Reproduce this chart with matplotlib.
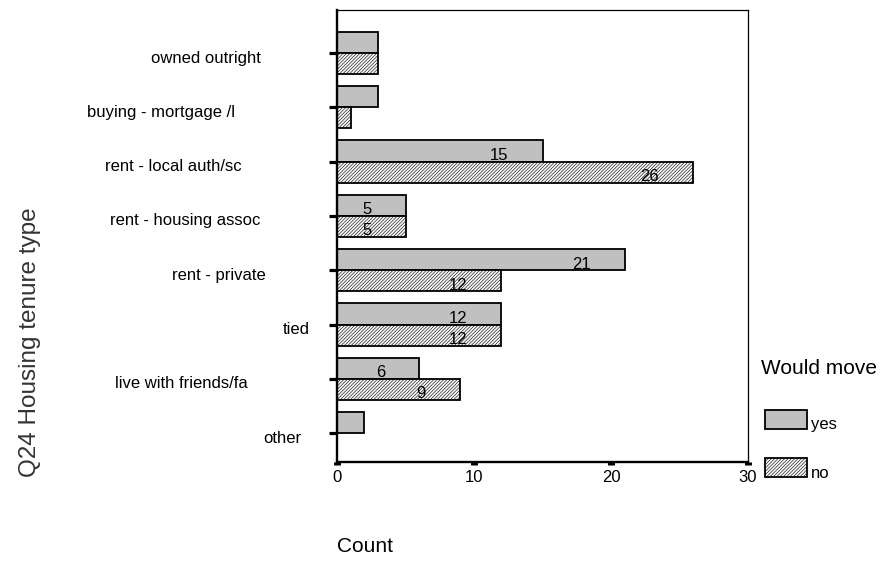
import numpy as np
import matplotlib
matplotlib.use("Agg")
from matplotlib import pyplot as plt
from matplotlib.patches import Rectangle

plt.rcParams['font.family'] = ['Liberation Sans', 'DejaVu Sans']
plt.rcParams['hatch.color'] = '#a0a0a0'
plt.rcParams['hatch.linewidth'] = 0.4

# data
categories = ['owned outright', 'buying - mortgage /l', 'rent - local auth/sc',
              'rent - housing assoc', 'rent - private', 'tied',
              'live with friends/fa', 'other']
yes_counts = [3, 3, 15, 5, 21, 12, 6, 2]
no_counts = [3, 1, 26, 5, 12, 12, 9, 0]
series_names = ['yes', 'no']

# pixel centres of the category labels (they are not aligned in the original)
label_cx = [206, 161, 173, 185, 219, 296, 181, 282]

W, H = 880, 567
fig = plt.figure(figsize=(W / 100, H / 100), dpi=100)
ax = fig.add_axes([337 / W, 1 - 462 / H, (748 - 337) / W, (462 - 10) / H])

HATCH = '/' * 10
y = np.arange(len(categories))
bh = 0.39
ax.barh(y - bh / 2, yes_counts, height=bh, color='#c0c0c0', edgecolor='black', linewidth=1.3)
ax.barh(y + bh / 2, no_counts, height=bh, color='#f6f6f6', edgecolor='black', linewidth=1.3,
        hatch=HATCH)

# value labels only on the wider bars, right aligned a bit inside the bar end
for i in range(len(categories)):
    for v, off in ((yes_counts[i], -bh / 2), (no_counts[i], bh / 2)):
        if v >= 5:
            ax.text(v - 2.5, y[i] + off + bh / 2 - 0.03, str(v), ha='right', va='baseline',
                    fontsize=12)

ax.set_xlim(0, 30)
ax.set_ylim(7.53, -0.79)
ax.set_xticks([0, 10, 20, 30])
ax.set_xticklabels(['0', '10', '20', '30'], fontsize=12)
ax.set_yticks(y)
ax.set_yticklabels([])
ax.tick_params(axis='y', direction='out', length=6, width=2.3, color='black')
ax.tick_params(axis='x', direction='out', length=2.5, width=5, color='black', pad=3)
for s in ['top', 'right']:
    ax.spines[s].set_linewidth(0.9)
for s in ['left', 'bottom']:
    ax.spines[s].set_linewidth(1.7)

for i, name in enumerate(categories):
    ypix = 1 - (58 + 54.3 * i) / H
    fig.text(label_cx[i] / W, ypix, name, ha='center', va='center', fontsize=12)

fig.text(30 / W, 1 - 342 / H, 'Q24 Housing tenure type', rotation=90, ha='center', va='center',
         fontsize=17.5, color='#333333')
fig.text(337 / W, 1 - 546 / H, 'Count', ha='left', va='center', fontsize=15)

# legend
fig.text(761 / W, 1 - 369 / H, 'Would move', ha='left', va='center', fontsize=15)
styles = [dict(facecolor='#c0c0c0'), dict(facecolor='#f6f6f6', hatch=HATCH)]
for k, name in enumerate(series_names):
    top = 410 + 48 * k
    fig.patches.append(Rectangle((765 / W, 1 - (top + 19) / H), 42 / W, 19 / H,
                                 transform=fig.transFigure, edgecolor='black', linewidth=1.3,
                                 **styles[k]))
    fig.text(811 / W, 1 - (top + 15) / H, name, ha='left', va='center', fontsize=12)

fig.savefig('out.png', dpi=100)
